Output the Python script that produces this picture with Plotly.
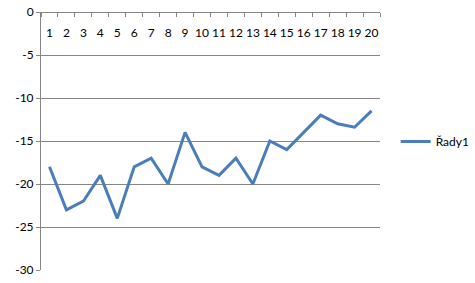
import plotly.graph_objects as go

categories = [str(i) for i in range(1, 21)]
values = [-18, -23, -22, -19, -24, -18, -17, -20, -14, -18,
          -19, -17, -20, -15, -16, -14, -12, -13, -13.4, -11.5]
series_name = "Řady1"
y_tickvals = [0, -5, -10, -15, -20, -25, -30]
y_ticktext = ["0", "-5", "-10", "-15", "-20", "-25", "-30"]

FONT = "Lato"
GRID = "#868686"

fig = go.Figure()
fig.add_trace(go.Scatter(
    x=categories, y=values, mode="lines", name=series_name,
    line=dict(color="#4A7EBB", width=3),
))

fig.update_layout(
    width=475, height=283,
    margin=dict(l=41, r=95, t=12, b=13),
    paper_bgcolor="white", plot_bgcolor="white",
    font=dict(family=FONT, size=12, color="black"),
    showlegend=True,
    legend=dict(xref="container", yref="container",
                x=0.833, y=0.5, xanchor="left", yanchor="middle",
                font=dict(family=FONT, size=12, color="black"),
                bgcolor="rgba(0,0,0,0)", itemwidth=30),
    xaxis=dict(
        type="category", side="bottom", anchor="free", position=1,
        range=[-0.5, 19.5], automargin=False,
        showline=True, linecolor=GRID, linewidth=1,
        ticks="outside", ticklen=4, tickcolor=GRID, tickson="boundaries",
        tickangle=0, ticklabelstandoff=10,
        showgrid=False, zeroline=False,
        tickfont=dict(family=FONT, size=12, color="black"),
    ),
    yaxis=dict(
        range=[-30, 0], tickvals=y_tickvals, ticktext=y_ticktext,
        automargin=False,
        showline=True, linecolor=GRID, linewidth=1,
        ticks="outside", ticklen=4, tickcolor=GRID,
        showgrid=True, gridcolor=GRID, gridwidth=1, zeroline=False,
        tickfont=dict(family=FONT, size=12, color="black"),
    ),
)

fig.write_html("out.html")
